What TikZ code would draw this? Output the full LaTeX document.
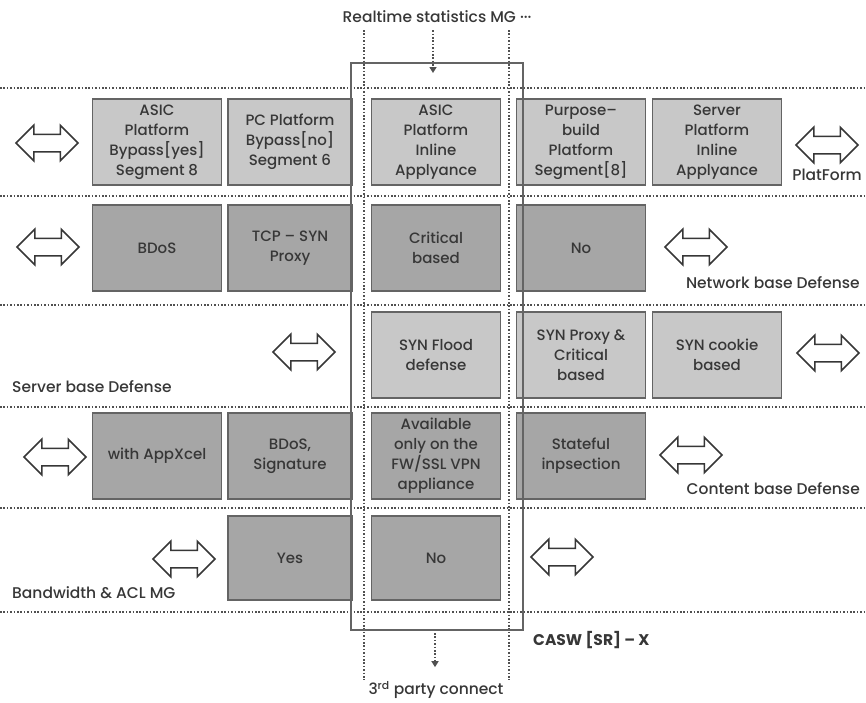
\documentclass[tikz,border=0pt]{standalone}
\usepackage{fontspec}
\setmainfont{Poppins}[UprightFont={* Medium}, BoldFont={* Bold}]
\usetikzlibrary{shapes.arrows,arrows.meta}

\definecolor{lightcell}{RGB}{200,200,200}
\definecolor{darkcell}{RGB}{166,166,166}
\definecolor{cellline}{RGB}{100,100,100}
\definecolor{inktxt}{RGB}{55,55,55}
\definecolor{dotink}{RGB}{80,80,80}

\newcommand{\cellsize}{\fontsize{15}{20}\selectfont}
\newcommand{\tagsize}{\fontsize{15.5}{18}\selectfont}

\tikzset{
  cell/.style={draw=cellline, line width=1.8pt, minimum width=129pt, minimum height=86pt,
    inner sep=1pt, align=center, text=inktxt, font=\cellsize},
  lite/.style={cell, fill=lightcell},
  dark/.style={cell, fill=darkcell},
  dblarrow/.style={double arrow, draw=inktxt, line width=1.5pt, fill=white,
    inner xsep=0pt, inner ysep=8pt, minimum height=62pt, double arrow head extend=9pt},
  sep/.style={draw=dotink, line width=1.6pt, dash pattern=on 1.6pt off 1.8pt},
  lbl/.style={text=inktxt, font=\tagsize, inner sep=0pt},
}

\begin{document}
\begin{tikzpicture}[x=1pt,y=-1pt]
    \useasboundingbox (0,0) rectangle (866,702);

    % Lignes pointillées entre les niveaux
    \foreach \y in {88,196,305,407,508,612}
        \draw[sep] (0,\y) -- (866,\y);

    % Guides verticaux
    \draw[sep] (364,30) -- (364,680);
    \draw[sep] (509,30) -- (509,680);

    % Niveau plateforme
    \node[lite] (asicbyp) at (157,142) {ASIC\\Platform\\Bypass[yes]\\Segment 8};
    \node[lite, minimum width=124pt] (pcbyp) at (290,142) {PC Platform\\Bypass[no]\\Segment 6};
    \node[lite] (asicinl) at (436,142) {ASIC\\Platform\\Inline\\Applyance};
    \node[lite] (purpose) at (581,142) {Purpose–\\build\\Platform\\Segment[8]};
    \node[lite] (server) at (717,142) {Server\\Platform\\Inline\\Applyance};
    \node[dblarrow] (pfL) at (47,143) {};
    \node[dblarrow] (pfR) at (827,145) {};
    \node[lbl, anchor=east] (pfTag) at (862,175) {PlatForm};

    % Niveau réseau
    \node[dark] (bdos) at (157,248) {BDoS};
    \node[dark, minimum width=124pt] (tcpsyn) at (290,248) {TCP – SYN\\Proxy};
    \node[dark] (critical) at (436,248) {Critical\\based};
    \node[dark] (netno) at (581,248) {No};
    \node[dblarrow] (netL) at (48,247) {};
    \node[dblarrow] (netR) at (696,247) {};
    \node[lbl, anchor=east] (netTag) at (860,283) {Network base Defense};

    % Niveau serveur
    \node[lite] (synflood) at (436,355) {SYN Flood\\defense};
    \node[lite] (synproxy) at (581,355) {SYN Proxy \&\\Critical\\based};
    \node[lite] (syncookie) at (717,355) {SYN cookie\\based};
    \node[dblarrow] (srvL) at (304,352) {};
    \node[dblarrow] (srvR) at (828,353) {};
    \node[lbl, anchor=west] (srvTag) at (12,387) {Server base Defense};

    % Niveau contenu
    \node[dark] (appxcel) at (157,456) {with AppXcel};
    \node[dark, minimum width=124pt] (bdossig) at (290,456) {BDoS,\\Signature};
    \node[dark] (fwssl) at (436,456) {Available\\only on the\\FW/SSL VPN\\appliance};
    \node[dark] (stateful) at (581,456) {Stateful\\inpsection};
    \node[dblarrow] (cntL) at (55,457) {};
    \node[dblarrow] (cntR) at (691,455) {};
    \node[lbl, anchor=east] (cntTag) at (860,489) {Content base Defense};

    % Niveau bande passante
    \node[dark, minimum width=124pt, minimum height=84pt] (bwyes) at (290,558) {Yes};
    \node[dark, minimum height=84pt] (bwno) at (436,558) {No};
    \node[dblarrow] (bwL) at (184,559) {};
    \node[dblarrow] (bwR) at (562,557) {};
    \node[lbl, anchor=west] (bwTag) at (12,593) {Bandwidth \& ACL MG};

    % Cadre CASW
    \draw[draw=cellline, line width=1.6pt] (351,63) rectangle (523,630);
    \node[lbl, anchor=west, font=\tagsize\bfseries] (casw) at (533,640) {CASW [SR] – X};

    % Entrée et sortie
    \node[lbl] (stats) at (437,17) {Realtime statistics MG ···};
    \coordinate (inTip) at (433,73);
    \draw[sep, -{Triangle[width=7pt,length=6pt]}, shorten <=7pt] (stats.south -| inTip) -- (inTip);
    \node[lbl] (third) at (436,690) {3\textsuperscript{rd} party connect};
    \coordinate (outTop) at (435,633);
    \draw[sep, -{Triangle[width=7pt,length=6pt]}, shorten >=14pt] (outTop) -- (outTop |- third.north);
\end{tikzpicture}
\end{document}
